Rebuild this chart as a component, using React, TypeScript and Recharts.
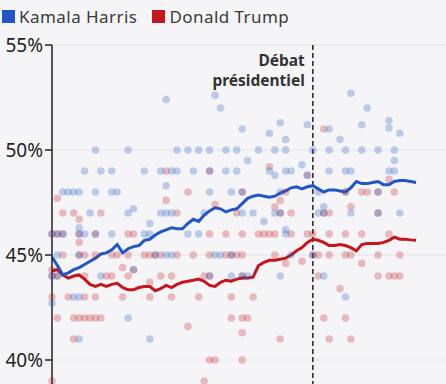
import { ComposedChart, Line, Scatter, XAxis, YAxis, CartesianGrid, ReferenceLine } from "recharts";

// days since start of the series (debate = day 48)
const harrisTrend = [
    44.9, 44.5, 44.05, 44.15, 44.3, 44.4, 44.55, 44.7, 44.85, 45.05,
    45.1, 45.25, 45.5, 45.1, 45.3, 45.4, 45.45, 45.7, 45.75, 45.95,
    46.1, 46.2, 46.3, 46.25, 46.25, 46.5, 46.7, 46.6, 46.9, 47.1,
    47.25, 47.2, 47.05, 47.15, 47.2, 47.45, 47.7, 47.8, 47.85, 47.8,
    47.75, 47.8, 47.95, 48.05, 48.2, 48.25, 48.15, 48.25, 48.3, 48.15,
    48.0, 48.1, 48.1, 48.05, 48.0, 48.2, 48.5, 48.4, 48.4, 48.45,
    48.5, 48.35, 48.35, 48.5, 48.55, 48.55, 48.5, 48.45,
];

const trumpTrend = [
    44.25, 44.3, 44.05, 43.9, 44.0, 44.05, 43.85, 43.6, 43.5, 43.6,
    43.5, 43.6, 43.65, 43.45, 43.35, 43.35, 43.45, 43.5, 43.5, 43.3,
    43.4, 43.55, 43.45, 43.6, 43.7, 43.75, 43.8, 43.85, 43.75, 43.55,
    43.5, 43.7, 43.8, 43.75, 43.85, 43.9, 43.9, 43.95, 44.5, 44.65,
    44.75, 44.75, 44.8, 44.85, 45.0, 45.2, 45.35, 45.6, 45.75, 45.7,
    45.6, 45.45, 45.45, 45.5, 45.45, 45.35, 45.2, 45.5, 45.55, 45.55,
    45.55, 45.6, 45.7, 45.85, 45.75, 45.75, 45.72, 45.7,
];

// [day, value]
const harrisPolls: [number, number][] = [
    [0, 46], [0, 44], [0, 42.7], [1, 46], [1, 45], [1, 44], [2, 48], [2, 46], [3, 48],
    [4, 48], [4, 43], [5, 48], [5, 46.3], [5, 46], [5, 45], [5, 43], [5, 41],
    [6, 49], [6, 46], [7, 47], [8, 50], [8, 48], [8, 46], [9, 49], [9, 44],
    [11, 49], [11, 48], [11, 46], [12, 48], [14, 50], [14, 47], [14, 42],
    [15, 47.2], [15, 44.3], [17, 49], [17, 46], [18, 46.5], [18, 46], [18, 41], [19, 45],
    [20, 49], [20, 47], [21, 52.4], [21, 48.3], [21, 47], [21, 45], [22, 49], [22, 47], [22, 45],
    [23, 50], [23, 49], [25, 50], [25, 46], [26, 49], [27, 50], [27, 46], [28, 47],
    [29, 50], [29, 49], [29, 48], [29, 44], [30, 52.6], [30, 45], [31, 52], [31, 45],
    [32, 50], [32, 49], [33, 48], [33, 45], [33, 44], [34, 50], [34, 49],
    [35, 51], [35, 48], [35, 47], [35, 44], [36, 49.5], [36, 44], [37, 47], [38, 50], [39, 46.6],
    [40, 50.8], [40, 49], [41, 50], [41, 48.8], [41, 47], [42, 51.3], [42, 48], [42, 47], [42, 44],
    [43, 50.5], [43, 50], [43, 49], [43, 46.2], [43, 46], [44, 49], [44, 45], [46, 49.3],
    [47, 51.2], [47, 48.8], [48, 50], [48, 45], [49, 48], [49, 47], [50, 47.3], [50, 47], [50, 44],
    [51, 51], [51, 50], [51, 49], [53, 50.5], [54, 50], [54, 49], [54, 48], [54, 43],
    [55, 52.7], [55, 49], [55, 47], [57, 51.2], [57, 50], [58, 52], [60, 50], [60, 48], [60, 47],
    [62, 51.4], [62, 51.05], [62, 49], [63, 50], [63, 49.5], [63, 49], [64, 50.8], [64, 47],
];

const trumpPolls: [number, number][] = [
    [0, 46], [0, 44.3], [0, 44], [0, 43], [0, 39], [1, 47.7], [1, 46], [1, 44], [1, 42],
    [2, 47], [2, 46], [2, 45], [3, 43], [4, 47], [4, 42], [4, 41],
    [5, 46.7], [5, 46], [5, 45.6], [5, 45], [5, 42], [6, 45], [6, 44], [6, 43], [6, 42], [7, 42],
    [8, 46], [8, 45], [8, 43], [8, 42], [9, 47], [9, 42], [10, 44], [11, 45], [11, 44], [12, 45],
    [13, 44.4], [13, 43], [14, 46], [14, 45], [14, 44], [15, 46], [15, 44.3], [17, 45],
    [18, 45], [18, 43.7], [18, 43], [19, 45], [20, 45], [20, 44], [21, 49], [21, 47.6],
    [22, 44], [22, 43], [23, 47], [23, 45], [25, 48], [25, 41.6], [26, 45], [27, 43], [28, 44], [28, 39],
    [29, 49], [29, 46], [29, 45], [29, 44], [29, 40], [30, 47.4], [30, 40], [32, 46], [32, 45],
    [33, 45], [33, 43], [33, 42], [34, 47], [34, 45],
    [35, 48], [35, 46], [35, 45], [35, 44], [35, 42], [35, 41.3], [35, 40], [36, 42], [37, 43],
    [38, 46], [39, 46], [40, 49.2], [40, 46], [41, 47.3], [41, 46], [41, 45], [42, 47.6], [42, 47], [42, 41],
    [43, 48], [43, 44.6], [44, 47], [44, 46], [46, 44.7], [47, 48.8], [47, 46], [48, 46], [48, 45],
    [49, 45], [49, 44], [50, 51], [50, 47], [50, 42], [51, 47], [51, 46], [51, 45], [51, 41], [53, 43.4],
    [54, 48], [54, 46], [54, 45], [54, 42], [55, 47.3], [55, 45], [55, 41], [57, 48], [57, 46], [57, 44.6],
    [58, 48], [60, 48], [60, 47], [60, 45], [60, 44], [62, 48.6], [62, 46], [62, 44], [63, 48], [63, 44],
    [64, 45], [64, 44],
];

const yTicks = [40, 45, 50, 55];
const debateDay = 48;

const BLUE = "#2157c4";
const RED = "#c4161c";

const trendData = harrisTrend.map((v, i) => ({ day: i, harris: v, trump: trumpTrend[i] }));
const harrisDots = harrisPolls.map(([day, value]) => ({ day, value }));
const trumpDots = trumpPolls.map(([day, value]) => ({ day, value }));

const dot = (color: string) => (props: any) => (
    <circle cx={props.cx} cy={props.cy} r={3.8} fill={color} fillOpacity={0.27} />
);

function DebateLabel(props: any) {
    const { x, y } = props.viewBox;
    return (
        <g>
            <text x={x - 8} y={y + 21} textAnchor="end" fontSize={15.5} fontWeight={700} fill="#333">Débat</text>
            <text x={x - 8} y={y + 41} textAnchor="end" fontSize={15.5} fontWeight={700} fill="#333">présidentiel</text>
        </g>
    );
}

export default function App() {
    return (
        <div style={{ position: "absolute", left: 0, top: 0, width: 446, height: 384, overflow: "hidden", background: "#f5f5f7", fontFamily: "'Noto Sans', sans-serif" }}>
            <div style={{ position: "absolute", left: 2, top: 5, display: "flex", alignItems: "center", fontSize: 17, letterSpacing: 0.45, color: "#3a3a3a", whiteSpace: "nowrap" }}>
                <span style={{ display: "inline-block", width: 13, height: 13, background: BLUE, marginRight: 4 }} />
                <span style={{ marginRight: 15 }}>Kamala Harris</span>
                <span style={{ display: "inline-block", width: 13, height: 13, background: RED, marginRight: 4 }} />
                <span>Donald Trump</span>
            </div>
            <ComposedChart width={446} height={402} data={trendData} margin={{ top: 45, right: 0, bottom: 0, left: 0 }}>
                <CartesianGrid vertical={false} stroke="#e5e5e9" />
                <XAxis dataKey="day" type="number" domain={[0, 72.5]} hide />
                <YAxis
                    type="number"
                    domain={[38, 55]}
                    ticks={yTicks}
                    width={52}
                    tickSize={7}
                    tickFormatter={(v: number) => `${v}%`}
                    axisLine={{ stroke: "#222", strokeWidth: 1.5 }}
                    tickLine={{ stroke: "#222", strokeWidth: 1.5 }}
                    tick={{ fill: "#222", fontSize: 19 }}
                    allowDataOverflow
                />
                <Scatter data={trumpDots} dataKey="value" shape={dot(RED)} isAnimationActive={false} />
                <Scatter data={harrisDots} dataKey="value" shape={dot(BLUE)} isAnimationActive={false} />
                <ReferenceLine x={debateDay} stroke="#222" strokeWidth={1.5} strokeDasharray="5 3" label={<DebateLabel />} />
                <Line dataKey="trump" type="linear" stroke={RED} strokeWidth={3} dot={false} isAnimationActive={false} />
                <Line dataKey="harris" type="linear" stroke={BLUE} strokeWidth={3} dot={false} isAnimationActive={false} />
            </ComposedChart>
        </div>
    );
}
